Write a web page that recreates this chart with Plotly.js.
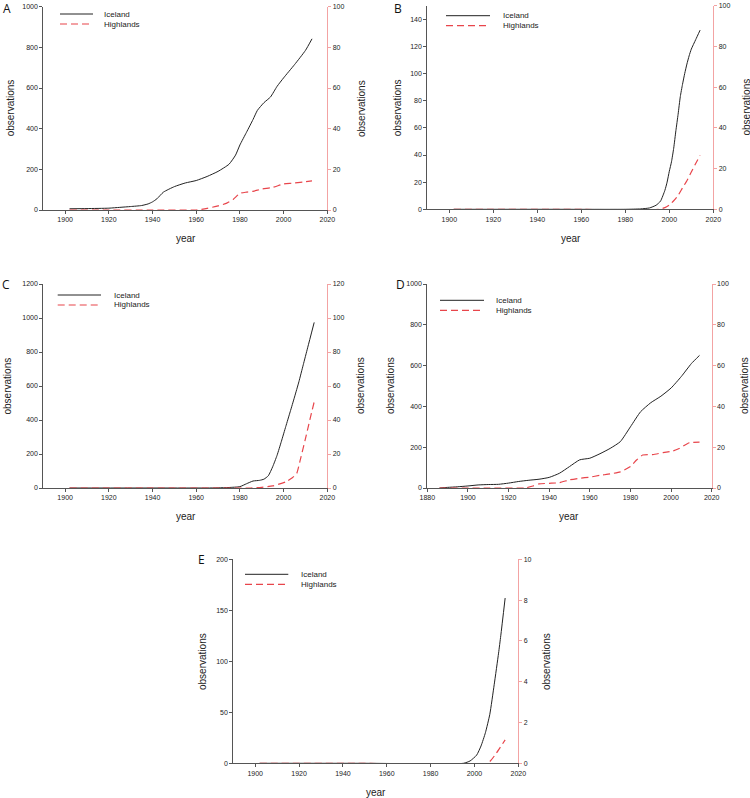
<!DOCTYPE html>
<html>
<head>
<meta charset="utf-8">
<script src="https://cdn.plot.ly/plotly-3.0.1.min.js"></script>
<style>html,body{margin:0;padding:0;background:#fff}#chart{width:750px;height:798px}</style>
</head>
<body>
<div id="chart"></div>
<script>
// ---- Data ----
const yearsA_iceland = [1902,1910,1920,1925,1930,1935,1938,1940,1942,1945,1950,1955,1960,1965,1970,1975,1978,1980,1983,1986,1988,1991,1994,1997,2000,2005,2010,2013];
const obsA_iceland   = [6,7,9,13,17,22,30,40,55,88,115,133,145,165,190,225,270,320,382,445,490,528,556,608,650,715,785,842];
const yearsA_highlands = [1902,1920,1940,1960,1965,1970,1974,1977,1980,1983,1986,1990,1995,2000,2004,2009,2013];
const obsA_highlands   = [0,0,0,0,0.8,2,3.4,5.3,8.2,8.8,9.2,10.3,11.1,12.8,13.2,13.8,14.3];

const yearsB_iceland = [1902,1950,1980,1987,1991,1994,1996,1998,1999,2000,2001,2002,2003,2004,2005,2006,2007,2008,2009,2010,2012,2014];
const obsB_iceland   = [0,0,0,0.3,1,3,6,14,20,28,35,45,58,70,83,92,100,107,113,118,125,132];
const yearsB_highlands = [1902,1950,1995,1998,2000,2002,2004,2006,2008,2010,2012,2014];
const obsB_highlands   = [0,0,0,0.8,2.1,4.2,6.8,10.5,14,18.3,22.5,26.5];

const yearsC_iceland = [1902,1950,1965,1970,1975,1980,1983,1986,1989,1991,1993,1995,1997,1999,2001,2003,2005,2007,2009,2011,2014];
const obsC_iceland   = [0,0,0,1,3,8,25,41,45,52,72,125,192,275,362,448,535,625,725,825,974];
const yearsC_highlands = [1902,1950,1985,1990,1995,2001,2004,2006,2008,2010,2012,2014];
const obsC_highlands   = [0,0,0,0.4,1.2,3.6,6,8.6,18.5,29,40,50.7];

const yearsD_iceland = [1886,1890,1895,1900,1905,1910,1915,1920,1925,1930,1935,1940,1945,1950,1955,1960,1965,1970,1975,1980,1985,1990,1995,2000,2005,2010,2014];
const obsD_iceland   = [0,3,6,10,15,17,18,24,32,38,43,52,72,105,138,146,168,194,227,300,374,418,450,490,546,610,650];
const yearsD_highlands = [1886,1910,1928,1932,1935,1940,1945,1950,1955,1960,1965,1970,1975,1980,1983,1986,1991,1996,2001,2004,2009,2014];
const obsD_highlands   = [0,0,0,1,2,2.3,2.6,4,4.8,5.3,6.2,6.9,7.9,10.5,13.7,16.2,16.4,17.3,18.2,19.4,22.2,22.5];

const yearsE_iceland = [1902,1950,1995,1998,2001,2003,2005,2007,2009,2011,2012,2014];
const obsE_iceland   = [0,0,0,2.3,8,17,30,48,77,108,125,162];
const yearsE_highlands = [1902,1950,2006,2010,2014];
const obsE_highlands   = [0,0,0,0.5,1.15];

const panelLetters = ["A","B","C","D","E"];
const seriesNames = ["Iceland","Highlands"];

// ---- Layout geometry (pixels) ----
const W = 750, H = 798;
const px = x => x / W;
const py = y => 1 - y / H;

const panels = [
  {letter: panelLetters[0], iy: yearsA_iceland, iv: obsA_iceland, hy: yearsA_highlands, hv: obsA_highlands,
   xPix: [43.3, 327.3], yPix: [6.7, 210], xr: [1890, 2020], lr: [0, 1000], ld: 200, rr: [0, 100], rd: 20,
   letterPos: [7, 9], yearPos: [185.7, 238.7], obsL: 10, obsR: 361.7, leg: [60, 93, 14, 101.7]},
  {letter: panelLetters[1], iy: yearsB_iceland, iv: obsB_iceland, hy: yearsB_highlands, hv: obsB_highlands,
   xPix: [427.3, 713.3], yPix: [5.7, 209.3], xr: [1890, 2020], lr: [0, 150], ld: 20, rr: [0, 100], rd: 20,
   letterPos: [398, 9], yearPos: [570.7, 238.3], obsL: 397.7, obsR: 746, leg: [446, 490, 15.7, 500.7]},
  {letter: panelLetters[2], iy: yearsC_iceland, iv: obsC_iceland, hy: yearsC_highlands, hv: obsC_highlands,
   xPix: [43.3, 327.3], yPix: [284, 488], xr: [1890, 2020], lr: [0, 1200], ld: 200, rr: [0, 120], rd: 20,
   letterPos: [6, 284], yearPos: [185.7, 516], obsL: 7.5, obsR: 361, leg: [57.7, 101, 295, 111.7]},
  {letter: panelLetters[3], iy: yearsD_iceland, iv: obsD_iceland, hy: yearsD_highlands, hv: obsD_highlands,
   xPix: [427.3, 711.7], yPix: [284, 488], xr: [1880, 2020], lr: [0, 1000], ld: 200, rr: [0, 100], rd: 20,
   letterPos: [400, 284], yearPos: [569, 516], obsL: 391, obsR: 745, leg: [440, 484, 300.3, 494]},
  {letter: panelLetters[4], iy: yearsE_iceland, iv: obsE_iceland, hy: yearsE_highlands, hv: obsE_highlands,
   xPix: [233.3, 518.3], yPix: [559.3, 763.3], xr: [1890, 2020], lr: [0, 200], ld: 50, rr: [0, 10], rd: 2,
   letterPos: [201.7, 559], yearPos: [375.7, 792], obsL: 202.7, obsR: 546.7, leg: [245, 288.3, 574.3, 299]}
];

const FONT = "Liberation Sans, Arial, sans-serif";
const AX = "#555";
const PINK = "#f3a3a3";
const RED = "#e8454b";
const BLACK = "#222";
const DASH = "7px,4px";

const traces = [];
const layout = {
  width: W, height: H,
  margin: {l: 0, r: 0, t: 0, b: 0},
  paper_bgcolor: "#fff", plot_bgcolor: "rgba(0,0,0,0)",
  showlegend: false,
  font: {family: FONT, size: 7, color: "#222"},
  annotations: [], shapes: []
};

panels.forEach((p, i) => {
  const n = i + 1;
  const xName = n === 1 ? "x" : "x" + n;
  const yL = 2 * i + 1, yR = 2 * i + 2;
  const yLName = yL === 1 ? "y" : "y" + yL;
  const yRName = "y" + yR;
  const xKey = n === 1 ? "xaxis" : "xaxis" + n;
  const yLKey = yL === 1 ? "yaxis" : "yaxis" + yL;
  const yRKey = "yaxis" + yR;
  const dom = [1 - p.yPix[1] / H, 1 - p.yPix[0] / H];

  layout[xKey] = {
    domain: [px(p.xPix[0]), px(p.xPix[1])], anchor: yLName, range: p.xr,
    tick0: 1880, dtick: 20, ticks: "outside", ticklen: 3, tickwidth: 1, tickcolor: AX,
    showline: true, linecolor: AX, linewidth: 1, showgrid: false, zeroline: false,
    tickfont: {family: FONT, size: 7, color: "#222"}, fixedrange: true
  };
  layout[yLKey] = {
    domain: dom, anchor: xName, range: p.lr, dtick: p.ld, tick0: 0,
    ticks: "outside", ticklen: 3, tickwidth: 1, tickcolor: AX,
    showline: true, linecolor: AX, linewidth: 1, showgrid: false, zeroline: false,
    tickfont: {family: FONT, size: 7, color: "#222"}, fixedrange: true
  };
  layout[yRKey] = {
    domain: dom, anchor: xName, overlaying: yLName, side: "right",
    range: p.rr, dtick: p.rd, tick0: 0,
    ticks: "outside", ticklen: 3, tickwidth: 1, tickcolor: PINK,
    showline: true, linecolor: PINK, linewidth: 1, showgrid: false, zeroline: false,
    tickfont: {family: FONT, size: 7, color: "#222"}, fixedrange: true
  };

  traces.push({
    type: "scatter", mode: "lines", name: seriesNames[0],
    x: p.iy, y: p.iv, xaxis: xName, yaxis: yLName,
    line: {color: BLACK, width: 1, shape: "spline", smoothing: 0.5},
    hoverinfo: "skip"
  });
  traces.push({
    type: "scatter", mode: "lines", name: seriesNames[1],
    x: p.hy, y: p.hv, xaxis: xName, yaxis: yRName,
    line: {color: RED, width: 1.2, dash: DASH, shape: "spline", smoothing: 0.5},
    hoverinfo: "skip"
  });

  // panel letter
  layout.annotations.push({
    xref: "paper", yref: "paper", x: px(p.letterPos[0]), y: py(p.letterPos[1]),
    text: p.letter, showarrow: false, xanchor: "center", yanchor: "middle", borderpad: 0,
    font: {family: "Open Sans, DejaVu Sans, sans-serif", size: 12, color: "#111"}
  });
  // x title
  layout.annotations.push({
    xref: "paper", yref: "paper", x: px(p.yearPos[0]), y: py(p.yearPos[1]),
    text: "year", showarrow: false, xanchor: "center", yanchor: "middle",
    font: {family: FONT, size: 10, color: "#222"}
  });
  const midY = (p.yPix[0] + p.yPix[1]) / 2;
  // left and right y titles
  [p.obsL, p.obsR].forEach(xx => {
    layout.annotations.push({
      xref: "paper", yref: "paper", x: px(xx), y: py(midY),
      text: "observations", showarrow: false, textangle: -90,
      xanchor: "center", yanchor: "middle",
      font: {family: FONT, size: 10, color: "#222"}
    });
  });
  // legend
  const [lx0, lx1, ly, tx] = p.leg;
  const rows = [{y: ly, color: BLACK, dash: "solid", w: 1, name: seriesNames[0]},
                {y: ly + 10, color: RED, dash: DASH, w: 1.2, name: seriesNames[1]}];
  rows.forEach(r => {
    layout.shapes.push({
      type: "line", xref: "paper", yref: "paper",
      x0: px(lx0), x1: px(lx1), y0: py(r.y), y1: py(r.y),
      line: {color: r.color, width: r.w, dash: r.dash}
    });
    layout.annotations.push({
      xref: "paper", yref: "paper", x: px(tx), y: py(r.y),
      text: r.name, showarrow: false, xanchor: "left", yanchor: "middle",
      font: {family: FONT, size: 8, color: "#222"}
    });
  });
});

Plotly.newPlot("chart", traces, layout, {displayModeBar: false, staticPlot: true});
</script>
</body>
</html>
